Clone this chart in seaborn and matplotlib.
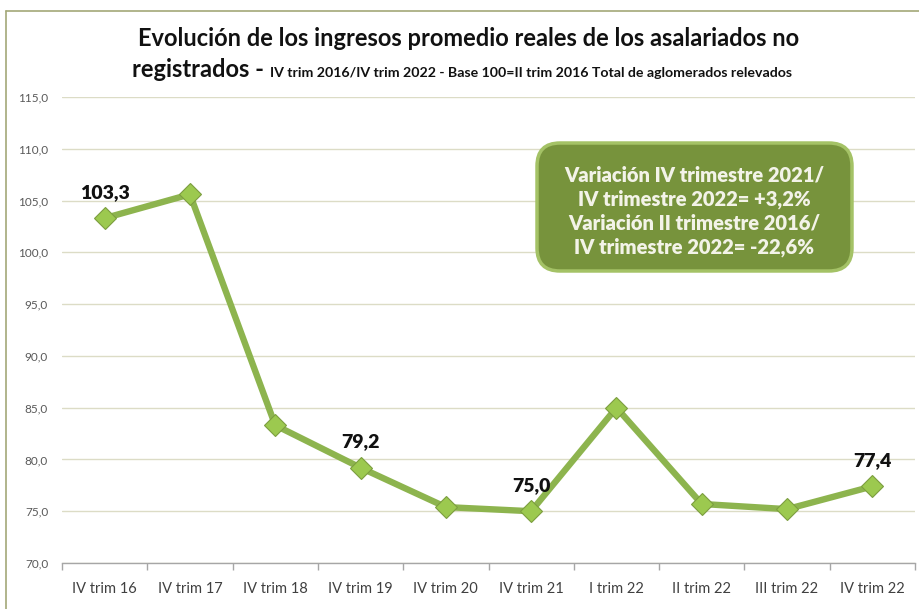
import matplotlib
matplotlib.use("Agg")
import matplotlib.pyplot as plt
import seaborn as sns
import pandas as pd
from matplotlib.patches import FancyBboxPatch
from matplotlib.lines import Line2D
from matplotlib.ticker import FixedLocator, FuncFormatter

categories = ["IV trim 16", "IV trim 17", "IV trim 18", "IV trim 19", "IV trim 20",
              "IV trim 21", "I trim 22", "II trim 22", "III trim 22", "IV trim 22"]
values = [103.3, 105.6, 83.3, 79.2, 75.4, 75.0, 85.0, 75.7, 75.2, 77.4]
labeled = {0: "103,3", 3: "79,2", 5: "75,0", 9: "77,4"}
yticks = [70, 75, 80, 85, 90, 95, 100, 105, 110, 115]

title1 = "Evolución de los ingresos promedio reales de los asalariados no"
title2a = "registrados - "
title2b = "IV trim 2016/IV trim 2022 - Base 100=II trim 2016 Total de aglomerados relevados"
box_text = ("Variación IV trimestre 2021/\nIV trimestre 2022= +3,2%\n"
            "Variación II trimestre 2016/\nIV trimestre 2022= -22,6%")

sns.set_theme(style="white")
FONT = ["Lato", "DejaVu Sans"]
plt.rcParams["font.family"] = FONT

W, H = 920, 609
fig = plt.figure(figsize=(W / 100, H / 100), dpi=100)
ax = fig.add_axes([62 / W, 1 - 563 / H, (915 - 62) / W, (563 - 97) / H])

df = pd.DataFrame({"cat": categories, "val": values})
line_color = "#8DB44E"
sns.lineplot(data=df, x="cat", y="val", ax=ax, color=line_color, linewidth=4.6,
             marker="D", markersize=11.5, markerfacecolor="#9CC94F",
             markeredgecolor="#7C9E3F", markeredgewidth=0.8, sort=False)

ax.set_xlim(-0.5, len(categories) - 0.5)
ax.set_ylim(70, 115)
ax.set_yticks(yticks)
ax.yaxis.set_major_formatter(FuncFormatter(lambda v, p: f"{v:.1f}".replace(".", ",")))
ax.set_xlabel("")
ax.set_ylabel("")
ax.grid(axis="y", color="#DCDCC6", linewidth=1.0)
ax.grid(axis="x", visible=False)
for s in ["top", "right", "left"]:
    ax.spines[s].set_visible(False)
ax.spines["bottom"].set_color("#A6A6A6")
ax.spines["bottom"].set_linewidth(1.0)
ax.tick_params(axis="y", length=0, pad=10, labelsize=8.5, labelcolor="#595959")
ax.tick_params(axis="x", which="major", length=0, pad=14, labelsize=10.5, labelcolor="#404040")
ax.xaxis.set_minor_locator(FixedLocator([i - 0.5 for i in range(len(categories) + 1)]))
ax.tick_params(axis="x", which="minor", length=5, color="#A6A6A6", width=1.0, bottom=True)
for lbl in ax.get_xticklabels() + ax.get_yticklabels():
    lbl.set_family(FONT)

for i, txt in labeled.items():
    ax.annotate(txt, (i, values[i]), xytext=(0, 18.5), textcoords="offset points",
                ha="center", va="center", fontsize=14, fontweight="heavy", color="#111111")

# Frame (top and left borders)
fig.add_artist(Line2D([6 / W, 1.0], [1 - 11 / H, 1 - 11 / H], transform=fig.transFigure,
                      color="#A3A878", linewidth=1.2))
fig.add_artist(Line2D([6 / W, 6 / W], [0.0, 1 - 11 / H], transform=fig.transFigure,
                      color="#A3A878", linewidth=1.2))

# Titles
fig.text(469 / W, 1 - 38 / H, title1, ha="center", va="center", fontsize=17,
         fontweight="bold", color="#111111")
fig.canvas.draw()
r = fig.canvas.get_renderer()
ta = fig.text(0, 1 - 77 / H, title2a, ha="left", va="baseline", fontsize=17,
              fontweight="bold", color="#111111")
tb = fig.text(0, 1 - 77 / H, title2b, ha="left", va="baseline", fontsize=10.2,
              fontweight="bold", color="#111111")
wa = ta.get_window_extent(r).width
wb = tb.get_window_extent(r).width
x0 = 462 - (wa + wb) / 2
ta.set_x(x0 / W)
tb.set_x((x0 + wa) / W)

# Annotation box
bx0, by0, bx1, by1 = 537, 143, 852, 271
box = FancyBboxPatch((bx0 / W, 1 - by1 / H), (bx1 - bx0) / W, (by1 - by0) / H,
                     boxstyle="round,pad=0,rounding_size=0.025",
                     transform=fig.transFigure, facecolor="#77933C",
                     edgecolor="#A4C266", linewidth=2.5, mutation_aspect=W / H)
fig.add_artist(box)
fig.text((bx0 + bx1) / 2 / W, 1 - 211 / H, box_text, ha="center", va="center",
         fontsize=14.5, fontweight="heavy", color="#F3F3E8", linespacing=1.3)

fig.savefig("out.png", dpi=100)
